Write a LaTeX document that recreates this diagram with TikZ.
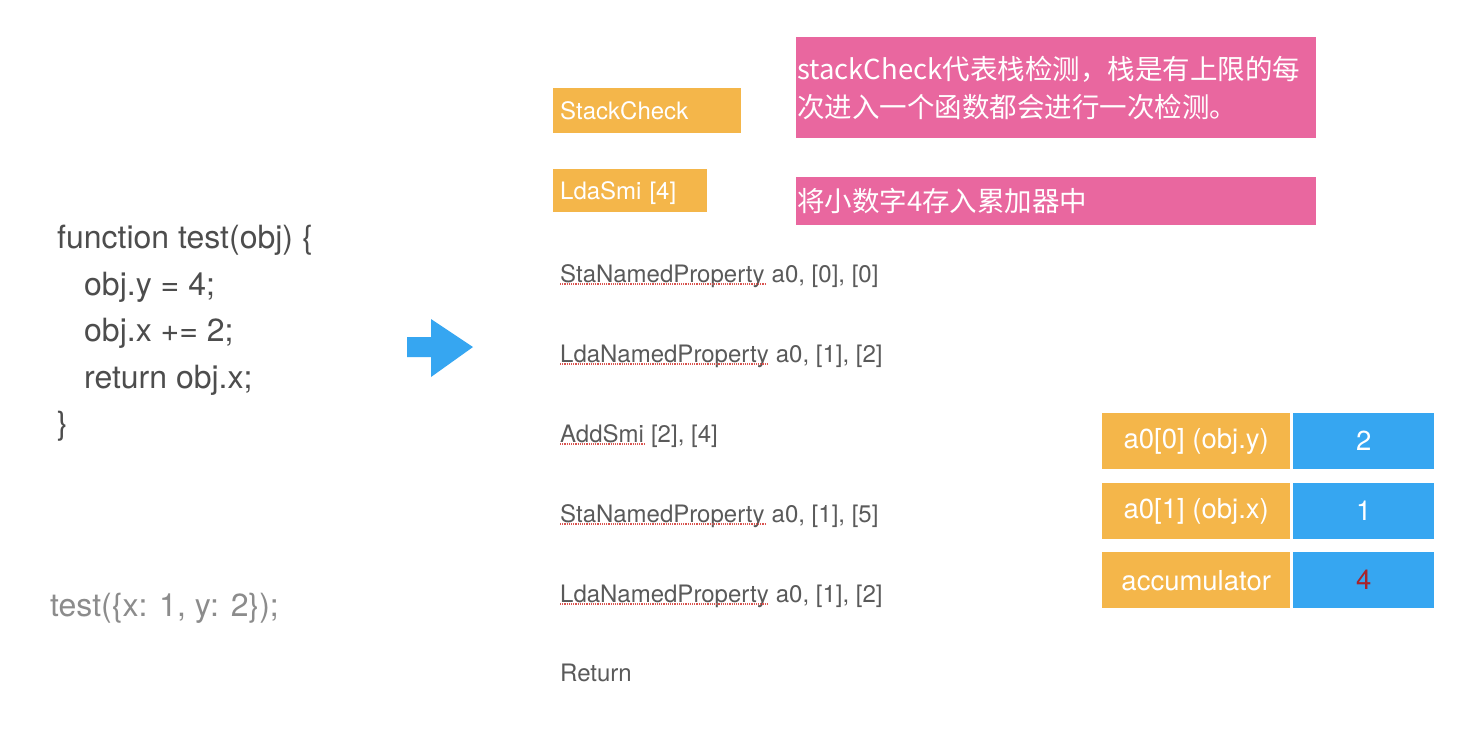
\documentclass[tikz,border=0pt]{standalone}
\usepackage{fontspec}
\setmainfont{TeX Gyre Heros}
\newfontfamily\cjk{Noto Sans CJK SC}
\usetikzlibrary{positioning}
\definecolor{gold}{HTML}{F4B64A}
\definecolor{rose}{HTML}{E9679F}
\definecolor{sky}{HTML}{36A6F1}
\definecolor{codegray}{HTML}{4D4D4D}
\definecolor{opgray}{HTML}{5A5A5A}
\definecolor{callgray}{HTML}{8C8C8C}
\definecolor{squigred}{HTML}{D9534F}
\definecolor{darkred}{HTML}{A8232B}
\tikzset{code/.style={inner sep=0pt,text=codegray,font=\fontsize{32}{38}\selectfont},
ins/.style={inner sep=0pt,text=opgray,font=\fontsize{24}{29}\selectfont},
obox/.style={fill=gold,text=white,inner xsep=7pt,inner ysep=0pt,text depth=0pt,align=left,anchor=north west,font=\fontsize{24}{29}\selectfont},
note/.style={fill=rose,text=white,inner xsep=1pt,inner ysep=0pt,align=left,anchor=north west,text width=518pt,font=\cjk\fontsize{27.5}{38}\selectfont},
cell/.style={text=white,inner sep=0pt,minimum height=56pt,anchor=north west,font=\fontsize{27.5}{33}\selectfont},
squig/.style={squigred,line width=1.1pt,dash pattern=on 1.1pt off 1.1pt}}

\begin{document}
\begin{tikzpicture}[x=1pt,y=-1pt]
\fill[white] (0,0) rectangle (1472,732);
\useasboundingbox (0,0) rectangle (1472,732);
% source
\foreach \yy/\xx/\txt [count=\i] in {248/57/{function test(obj) \{},295/84/{obj.y = 4;},341/84/{obj.x += 2;},388/84/{return obj.x;},434/57/{\}}}
  \node[code,anchor=base west] (src\i) at (\xx,\yy) {\txt};
\node[code,text=callgray,anchor=base west] (call) at (50,616) {test(\{x: 1, y: 2\});};
% arrow
\fill[sky] (407,337) -- (431,337) -- (431,319) -- (473,347) -- (431,377) -- (431,357) -- (407,357) -- cycle;
% bytecode
\node[obox,minimum width=188pt,minimum height=45pt,text width=174pt] (stk) at (553,88) {StackCheck};
\node[obox,minimum width=154pt,minimum height=43pt,text width=140pt] (lda) at (553,169) {LdaSmi [4]};
\foreach \yy/\op/\args [count=\i] in {282/StaNamedProperty/{a0, [0], [0]},362/LdaNamedProperty/{a0, [1], [2]},442/AddSmi/{[2], [4]},522/StaNamedProperty/{a0, [1], [5]},602/LdaNamedProperty/{a0, [1], [2]}}{
  \node[ins,anchor=base west] (op\i) at (560,\yy) {\op};
  \node[ins,anchor=base west] (arg\i) at (op\i.base east) {\ \args};
  \draw[squig] ([yshift=-2pt]op\i.base west) -- ([yshift=-2pt]op\i.base east);
}
\node[ins,anchor=base west] (ret) at (560,681) {Return};
% notes
\node[note,minimum height=101pt] (n1) at (796,37) {stackCheck代表栈检测，栈是有上限的每\\次进入一个函数都会进行一次检测。};
\node[note,minimum height=48pt] (n2) at (796,177) {将小数字4存入累加器中};
% registers
\foreach \yy/\reg/\val [count=\i] in {413/{a0[0] (obj.y)}/2,483/{a0[1] (obj.x)}/1,552/accumulator/{\textcolor{darkred}{4}}}{
  \node[cell,fill=gold,minimum width=188pt] (reg\i) at (1102,\yy) {\reg};
  \node[cell,fill=sky,minimum width=141pt] (val\i) at (1293,\yy) {\val};
}
\end{tikzpicture}
\end{document}
